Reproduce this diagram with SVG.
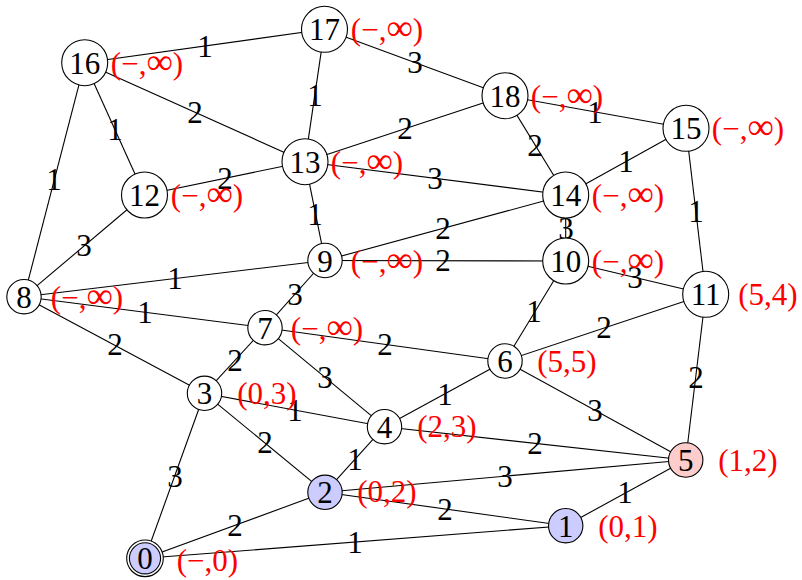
<svg xmlns="http://www.w3.org/2000/svg" width="802" height="580" viewBox="0 0 802 580">
<style>
.e{stroke:#000;stroke-width:1.1;fill:none}
.w{font-family:"Liberation Serif",serif;font-size:31px;text-anchor:middle;fill:#000}
.c{fill:#fff;stroke:#000;stroke-width:1.1}
.b{fill:#ccccff}
.r{fill:#ffcccc}
.t{font-family:"Liberation Serif",serif;font-size:31px;text-anchor:middle;fill:#000}
.l{font-family:"Liberation Serif",serif;font-size:31px;text-anchor:middle;fill:#ff0000}
.inf{font-size:37px}
</style>
<rect width="802" height="580" fill="#fff"/>
<g id="connectors">
<line class="e" x1="24" y1="296.7" x2="84.7" y2="62.7"/><text class="w" x="54" y="190">1</text>
<line class="e" x1="24" y1="296.7" x2="144.5" y2="195"/><text class="w" x="84" y="256">3</text>
<line class="e" x1="24" y1="296.7" x2="325" y2="260.5"/><text class="w" x="175" y="289">1</text>
<line class="e" x1="24" y1="296.7" x2="265" y2="327.7"/><text class="w" x="145" y="323">1</text>
<line class="e" x1="24" y1="296.7" x2="204.5" y2="393.3"/><text class="w" x="115" y="355">2</text>
<line class="e" x1="84.7" y1="62.7" x2="324.5" y2="29.3"/><text class="w" x="205" y="57">1</text>
<line class="e" x1="84.7" y1="62.7" x2="305" y2="161.7"/><text class="w" x="195" y="123">2</text>
<line class="e" x1="84.7" y1="62.7" x2="144.5" y2="195"/><text class="w" x="115" y="140">1</text>
<line class="e" x1="324.5" y1="29.3" x2="305" y2="161.7"/><text class="w" x="315" y="106">1</text>
<line class="e" x1="324.5" y1="29.3" x2="505" y2="95.7"/><text class="w" x="415" y="73">3</text>
<line class="e" x1="505" y1="95.7" x2="305" y2="161.7"/><text class="w" x="405" y="139">2</text>
<line class="e" x1="505" y1="95.7" x2="686" y2="128.3"/><text class="w" x="595" y="123">1</text>
<line class="e" x1="505" y1="95.7" x2="565.7" y2="195"/><text class="w" x="535" y="156">2</text>
<line class="e" x1="305" y1="161.7" x2="144.5" y2="195"/><text class="w" x="225" y="189">2</text>
<line class="e" x1="305" y1="161.7" x2="565.7" y2="195"/><text class="w" x="435" y="189">3</text>
<line class="e" x1="305" y1="161.7" x2="325" y2="260.5"/><text class="w" x="315" y="225">1</text>
<line class="e" x1="565.7" y1="195" x2="686" y2="128.3"/><text class="w" x="626" y="172">1</text>
<line class="e" x1="565.7" y1="195" x2="325" y2="260.5"/><text class="w" x="443" y="239">2</text>
<line class="e" x1="565.7" y1="195" x2="565.7" y2="261"/><text class="w" x="566" y="239">3</text>
<line class="e" x1="686" y1="128.3" x2="705.7" y2="294.3"/><text class="w" x="696" y="222">1</text>
<line class="e" x1="325" y1="260.5" x2="565.7" y2="261"/><text class="w" x="443" y="271">2</text>
<line class="e" x1="325" y1="260.5" x2="265" y2="327.7"/><text class="w" x="295" y="305">3</text>
<line class="e" x1="565.7" y1="261" x2="705.7" y2="294.3"/><text class="w" x="635" y="288">3</text>
<line class="e" x1="565.7" y1="261" x2="505" y2="361"/><text class="w" x="534" y="322">1</text>
<line class="e" x1="705.7" y1="294.3" x2="505" y2="361"/><text class="w" x="604" y="338">2</text>
<line class="e" x1="705.7" y1="294.3" x2="685.7" y2="460"/><text class="w" x="696" y="388">2</text>
<line class="e" x1="265" y1="327.7" x2="505" y2="361"/><text class="w" x="385" y="355">2</text>
<line class="e" x1="265" y1="327.7" x2="204.5" y2="393.3"/><text class="w" x="235" y="371">2</text>
<line class="e" x1="265" y1="327.7" x2="384.5" y2="426.7"/><text class="w" x="325" y="388">3</text>
<line class="e" x1="505" y1="361" x2="384.5" y2="426.7"/><text class="w" x="445" y="405">1</text>
<line class="e" x1="505" y1="361" x2="685.7" y2="460"/><text class="w" x="595" y="421">3</text>
<line class="e" x1="204.5" y1="393.3" x2="384.5" y2="426.7"/><text class="w" x="295" y="421">1</text>
<line class="e" x1="204.5" y1="393.3" x2="325" y2="492.3"/><text class="w" x="265" y="453">2</text>
<line class="e" x1="204.5" y1="393.3" x2="145" y2="558.3"/><text class="w" x="175" y="487">3</text>
<line class="e" x1="384.5" y1="426.7" x2="685.7" y2="460"/><text class="w" x="535" y="454">2</text>
<line class="e" x1="384.5" y1="426.7" x2="325" y2="492.3"/><text class="w" x="355" y="470">1</text>
<line class="e" x1="325" y1="492.3" x2="685.7" y2="460"/><text class="w" x="505" y="487">3</text>
<line class="e" x1="325" y1="492.3" x2="565.7" y2="525.7"/><text class="w" x="445" y="520">2</text>
<line class="e" x1="325" y1="492.3" x2="145" y2="558.3"/><text class="w" x="235" y="536">2</text>
<line class="e" x1="565.7" y1="525.7" x2="685.7" y2="460"/><text class="w" x="625" y="503">1</text>
<line class="e" x1="145" y1="558.3" x2="565.7" y2="525.7"/><text class="w" x="355" y="553">1</text>
</g>
<g id="node0"><circle class="c" cx="145" cy="558.3" r="18.3"/><circle class="c b" cx="145" cy="558.3" r="15.6"/><text class="t" x="145" y="569">0</text><text class="l" x="207.5" y="571">(−,0)</text></g>
<g id="node1"><circle class="c b" cx="565.7" cy="525.7" r="17.2"/><text class="t" x="565.7" y="536.5">1</text><text class="l" x="628" y="537">(0,1)</text></g>
<g id="node2"><circle class="c b" cx="325" cy="492.3" r="17.2"/><text class="t" x="325" y="503">2</text><text class="l" x="387" y="502">(0,2)</text></g>
<g id="node3"><circle class="c" cx="204.5" cy="393.3" r="17.2"/><text class="t" x="204.5" y="404">3</text><text class="l" x="267" y="404">(0,3)</text></g>
<g id="node4"><circle class="c" cx="384.5" cy="426.7" r="17.2"/><text class="t" x="384.5" y="437.5">4</text><text class="l" x="447" y="437">(2,3)</text></g>
<g id="node5"><circle class="c r" cx="685.7" cy="460" r="17.2"/><text class="t" x="685.7" y="471">5</text><text class="l" x="748" y="471">(1,2)</text></g>
<g id="node6"><circle class="c" cx="505" cy="361" r="17.2"/><text class="t" x="505" y="372">6</text><text class="l" x="567" y="371.5">(5,5)</text></g>
<g id="node7"><circle class="c" cx="265" cy="327.7" r="17.2"/><text class="t" x="265" y="338.5">7</text><text class="l" x="327" y="338.5">(−,<tspan class="inf">∞</tspan>)</text></g>
<g id="node8"><circle class="c" cx="24" cy="296.7" r="17.2"/><text class="t" x="24" y="307.5">8</text><text class="l" x="87" y="307.5">(−,<tspan class="inf">∞</tspan>)</text></g>
<g id="node9"><circle class="c" cx="325" cy="260.5" r="17.2"/><text class="t" x="325" y="271.5">9</text><text class="l" x="387" y="271.5">(−,<tspan class="inf">∞</tspan>)</text></g>
<g id="node10"><circle class="c" cx="565.7" cy="261" r="23"/><text class="t" x="565.7" y="272">10</text><text class="l" x="628" y="272">(−,<tspan class="inf">∞</tspan>)</text></g>
<g id="node11"><circle class="c" cx="705.7" cy="294.3" r="23"/><text class="t" x="705.7" y="305">11</text><text class="l" x="768" y="305">(5,4)</text></g>
<g id="node12"><circle class="c" cx="144.5" cy="195" r="23"/><text class="t" x="144.5" y="206">12</text><text class="l" x="207" y="206">(−,<tspan class="inf">∞</tspan>)</text></g>
<g id="node13"><circle class="c" cx="305" cy="161.7" r="23"/><text class="t" x="305" y="172.5">13</text><text class="l" x="367" y="172.5">(−,<tspan class="inf">∞</tspan>)</text></g>
<g id="node14"><circle class="c" cx="565.7" cy="195" r="23"/><text class="t" x="565.7" y="206">14</text><text class="l" x="628" y="206">(−,<tspan class="inf">∞</tspan>)</text></g>
<g id="node15"><circle class="c" cx="686" cy="128.3" r="23"/><text class="t" x="686" y="139">15</text><text class="l" x="748" y="139">(−,<tspan class="inf">∞</tspan>)</text></g>
<g id="node16"><circle class="c" cx="84.7" cy="62.7" r="23"/><text class="t" x="84.7" y="73.5">16</text><text class="l" x="147" y="73.5">(−,<tspan class="inf">∞</tspan>)</text></g>
<g id="node17"><circle class="c" cx="324.5" cy="29.3" r="23"/><text class="t" x="324.5" y="40">17</text><text class="l" x="387" y="40">(−,<tspan class="inf">∞</tspan>)</text></g>
<g id="node18"><circle class="c" cx="505" cy="95.7" r="23"/><text class="t" x="505" y="106.5">18</text><text class="l" x="567" y="106.5">(−,<tspan class="inf">∞</tspan>)</text></g>
</svg>
